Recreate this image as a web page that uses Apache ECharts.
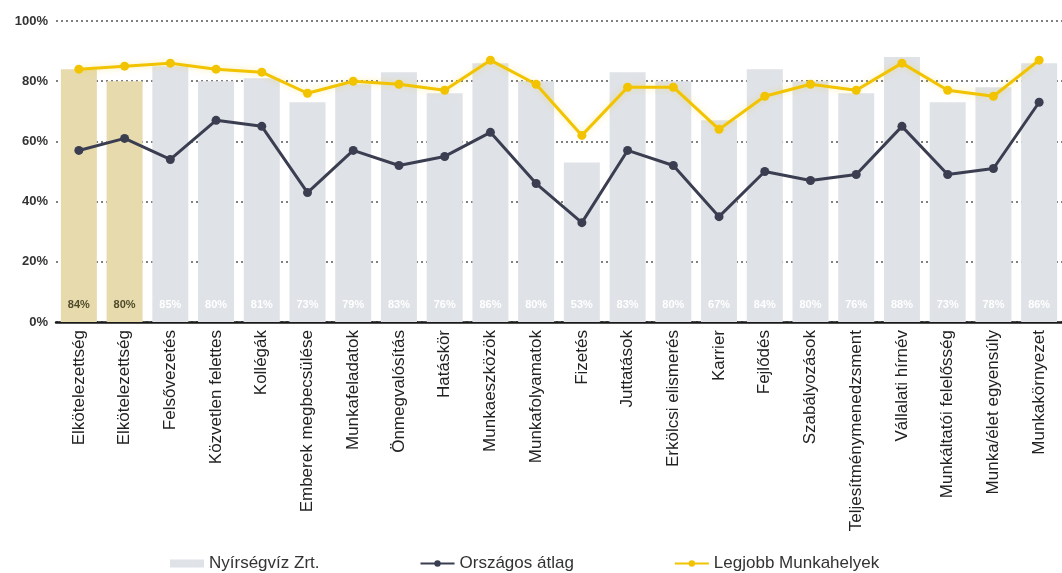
<!DOCTYPE html>
<html>
<head>
<meta charset="utf-8">
<script src="https://cdn.jsdelivr.net/npm/echarts@6/dist/echarts.min.js"></script>
<style>
html,body{margin:0;padding:0;background:#fff;}
#chart{width:1062px;height:573px;}
</style>
</head>
<body>
<div id="chart"></div>
<script>
const categories = ["Elkötelezettség","Elkötelezettség","Felsővezetés","Közvetlen felettes","Kollégák","Emberek megbecsülése","Munkafeladatok","Önmegvalósítás","Hatáskör","Munkaeszközök","Munkafolyamatok","Fizetés","Juttatások","Erkölcsi elismerés","Karrier","Fejlődés","Szabályozások","Teljesítménymenedzsment","Vállalati hírnév","Munkáltatói felelősség","Munka/élet egyensúly","Munkakörnyezet"];
const nyirsegviz = [84,80,85,80,81,73,79,83,76,86,80,53,83,80,67,84,80,76,88,73,78,86];
const orszagos = [57,61,54,67,65,43,57,52,55,63,46,33,57,52,35,50,47,49,65,49,51,73];
const legjobb = [84,85,86,84,83,76,80,79,77,87,79,62,78,78,64,75,79,77,86,77,75,87];
const yTicks = [0,20,40,60,80,100];
const seriesNames = ["Nyírségvíz Zrt.","Országos átlag","Legjobb Munkahelyek"];
const highlighted = [0,1];

const chart = echarts.init(document.getElementById('chart'));
const barData = nyirsegviz.map((v,i)=> highlighted.includes(i)
  ? {value:v, itemStyle:{color:'#e7dbad'}, label:{color:'#4f4a2a'}}
  : v);

chart.setOption({
  animation:false,
  backgroundColor:'#fff',
  textStyle:{fontFamily:'Liberation Sans, Arial, sans-serif'},
  grid:{left:56, top:21, width:1014, height:301, containLabel:false},
  legend:{
    left:165, top:550, itemGap:100, itemWidth:34, itemHeight:8,
    textStyle:{fontSize:17, color:'#333'},
    data:[{name:seriesNames[0], icon:'rect'}, {name:seriesNames[1]}, {name:seriesNames[2]}]
  },
  xAxis:{
    type:'category', data:categories, boundaryGap:true,
    axisLine:{lineStyle:{color:'#1a1a1a', width:2.5}},
    axisTick:{show:false},
    axisLabel:{rotate:90, interval:0, fontSize:17, color:'#222', margin:8}
  },
  yAxis:{
    type:'value', min:yTicks[0], max:yTicks[yTicks.length-1], interval:20,
    axisLine:{show:false}, axisTick:{show:false},
    axisLabel:{formatter:'{value}%', fontSize:13, fontWeight:'bold', color:'#333', margin:8},
    splitLine:{lineStyle:{color:'#555', type:[2,3], width:1.5}}
  },
  series:[
    {
      name:seriesNames[0], type:'bar', data:barData, barWidth:36,
      itemStyle:{color:'#dfe2e7'},
      label:{show:true, position:'insideBottom', distance:12, formatter:'{c}%', fontSize:11, fontWeight:'bold', color:'#ffffff'}
    },
    {
      name:seriesNames[1], type:'line', data:orszagos,
      symbol:'circle', symbolSize:9,
      lineStyle:{color:'#3a3e50', width:3},
      itemStyle:{color:'#3a3e50'}
    },
    {
      name:seriesNames[2], type:'line', data:legjobb,
      symbol:'circle', symbolSize:9,
      lineStyle:{color:'#f2c300', width:3, shadowColor:'rgba(245,205,0,0.35)', shadowBlur:6},
      itemStyle:{color:'#f2c300'}
    }
  ]
});
</script>
</body>
</html>
